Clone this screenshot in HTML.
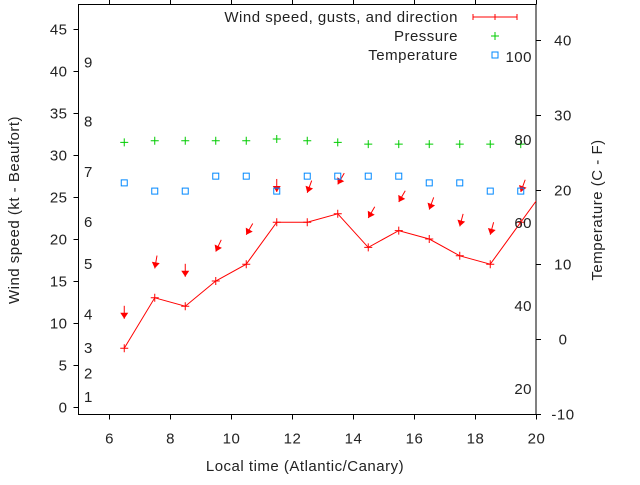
<!DOCTYPE html>
<html><head><meta charset="utf-8">
<style>
html,body{margin:0;padding:0;background:#fff;}
svg text{font-family:"Liberation Sans",sans-serif;font-size:15px;letter-spacing:0.5px;fill:#222;}
</style></head>
<body>
<svg id="chart" width="640" height="480" xmlns="http://www.w3.org/2000/svg">
<defs><clipPath id="clip"><rect x="78.5" y="4.5" width="457.5" height="410"/></clipPath></defs>
<g id="axes"></g>
<g id="marks" clip-path="url(#clip)"></g>
<g id="labels"></g>
</svg>
<script>
const hours = [6.5,7.5,8.5,9.5,10.5,11.5,12.5,13.5,14.5,15.5,16.5,17.5,18.5,19.5,20.5];
const windSpeed = [7,13,12,15,17,22,22,23,19,21,20,18,17,22,27];
const gustHours = [6.5,7.5,8.5,9.5,10.5,11.5,12.5,13.5,14.5,15.5,16.5,17.5,18.5,19.5];
const gustSpeed = [10.5,16.5,15.5,18.5,20.5,25.6,25.5,26.5,22.5,24.4,23.5,21.5,20.5,25.6];
const windDir = [0,10,0,25,30,0,20,30,30,30,20,15,15,20];
const pressure = [31.5,31.7,31.7,31.7,31.7,31.9,31.7,31.5,31.3,31.3,31.3,31.3,31.3,31.3];
const tempC = [20.9,19.8,19.8,21.8,21.8,19.8,21.8,21.8,21.8,21.8,20.9,20.9,19.8,19.8];
const xTicks = [6,8,10,12,14,16,18,20];
const yTicks = [0,5,10,15,20,25,30,35,40,45];
const y2Ticks = [-10,0,10,20,30,40];
const beaufortLabels = ["1","2","3","4","5","6","7","8","9"];
const beaufortPos = [1.2,4,7,11,17,22,28,34,41];
const fLabels = ["20","40","60","80","100"];
const fPos = [20,40,60,80,100];

const NS="http://www.w3.org/2000/svg";
const L=78.5,R=536,T=4.5,B=414.5;
const xS=v=>L+(v-5)*(R-L)/15;
const yS=v=>407-v*8.4;
const y2S=v=>339-v*7.47;
const fS=f=>y2S((f-32)*5/9);
function mk(tag,attrs,parent){const e=document.createElementNS(NS,tag);for(const k in attrs)e.setAttribute(k,attrs[k]);parent.appendChild(e);return e;}
const axes=document.getElementById('axes'),marks=document.getElementById('marks'),labels=document.getElementById('labels');

const frame=mk('rect',{x:L,y:T,width:R-L,height:B-T,fill:'none',stroke:'#000','stroke-width':1},axes);



xTicks.forEach(v=>{
  const x=Math.round(xS(v))+0.5;
  const t=mk('line',{x1:x,x2:x,y1:B,y2:B+5,stroke:'#000'},axes);
  
  
  const t2=mk('line',{x1:x,x2:x,y1:T,y2:T-5,stroke:'#000'},axes);
  
  
  const tx=mk('text',{x:x,y:B+29,'text-anchor':'middle'},labels);tx.textContent=v;
  
  
});
yTicks.forEach(v=>{
  const y=Math.round(yS(v))+0.5;
  const t=mk('line',{x1:L-5,x2:L,y1:y,y2:y,stroke:'#000'},axes);
  
  
  const tx=mk('text',{x:L-11,y:y+5,'text-anchor':'end'},labels);tx.textContent=v;
  
  
});
y2Ticks.forEach(v=>{
  const y=Math.round(y2S(v))+0.5;
  const t=mk('line',{x1:R,x2:R+5,y1:y,y2:y,stroke:'#000'},axes);
  
  
  const tx=mk('text',{x:R+27,y:y+5,'text-anchor':'middle'},labels);tx.textContent=v;
  
  
});
beaufortLabels.forEach((s,i)=>{
  const tx=mk('text',{x:84,y:yS(beaufortPos[i])+5},labels);tx.textContent=s;
  
  
});
fLabels.forEach((s,i)=>{
  const tx=mk('text',{x:532,y:fS(fPos[i])+5,'text-anchor':'end'},labels);tx.textContent=s;
  
  
});

const pl=mk('polyline',{points:hours.map((h,i)=>xS(h)+','+yS(windSpeed[i])).join(' '),fill:'none',stroke:'#f00','stroke-width':1},marks);


hours.forEach((h,i)=>{
  const x=xS(h),y=yS(windSpeed[i]);
  const p=mk('path',{d:`M${x-4},${y}H${x+4}M${x},${y-4}V${y+4}`,stroke:'#f00','stroke-width':1},marks);
  
  
});
gustHours.forEach((h,i)=>{
  const x=xS(h),y=yS(gustSpeed[i]);
  const a=windDir[i]*Math.PI/180,len=13;
  const sx=x+Math.sin(a)*len,sy=y-Math.cos(a)*len;
  const g=mk('g',{},marks);
  
  
  mk('line',{x1:sx,y1:sy,x2:x,y2:y,stroke:'#f00','stroke-width':1},g);
  const ux=-Math.sin(a),uy=Math.cos(a),px=-uy,py=ux;
  const bx=x-ux*6,by=y-uy*6;
  mk('polygon',{points:`${x},${y} ${bx+px*4},${by+py*4} ${bx-px*4},${by-py*4}`,fill:'#f00'},g);
});
gustHours.forEach((h,i)=>{
  const x=xS(h),y=yS(pressure[i]);
  const p=mk('path',{d:`M${x-4},${y}H${x+4}M${x},${y-4}V${y+4}`,stroke:'#0c0','stroke-width':1},marks);
  
  
});
gustHours.forEach((h,i)=>{
  const x=xS(h),y=y2S(tempC[i]);
  const r=mk('rect',{x:x-3,y:y-3,width:6,height:6,fill:'none',stroke:'#08f','stroke-width':1},marks);
  
  
});
</script>
<svg width="640" height="480" style="position:absolute;left:0;top:0" xmlns="http://www.w3.org/2000/svg">
<style>text{font-family:"Liberation Sans",sans-serif;font-size:15px;letter-spacing:0.5px;fill:#222;}</style>
<text x="305" y="471" text-anchor="middle">Local time (Atlantic/Canary)</text>
<text transform="translate(19,210) rotate(-90)" text-anchor="middle">Wind speed (kt - Beaufort)</text>
<text transform="translate(602,210) rotate(-90)" text-anchor="middle">Temperature (C - F)</text>
<g>
<g>
<text x="458" y="22" text-anchor="end">Wind speed, gusts, and direction</text>
<path d="M473,17H517M473,14V20M495,14V20M517,14V20" stroke="#f00" fill="none"/>
</g>
<g>
<text x="458" y="41" text-anchor="end">Pressure</text>
<path d="M491,36H499M495,32V40" stroke="#0c0"/>
</g>
<g>
<text x="458" y="60" text-anchor="end">Temperature</text>
<rect x="492" y="52" width="6" height="6" fill="none" stroke="#08f"/>
</g>
</g>
</svg>
</body></html>
